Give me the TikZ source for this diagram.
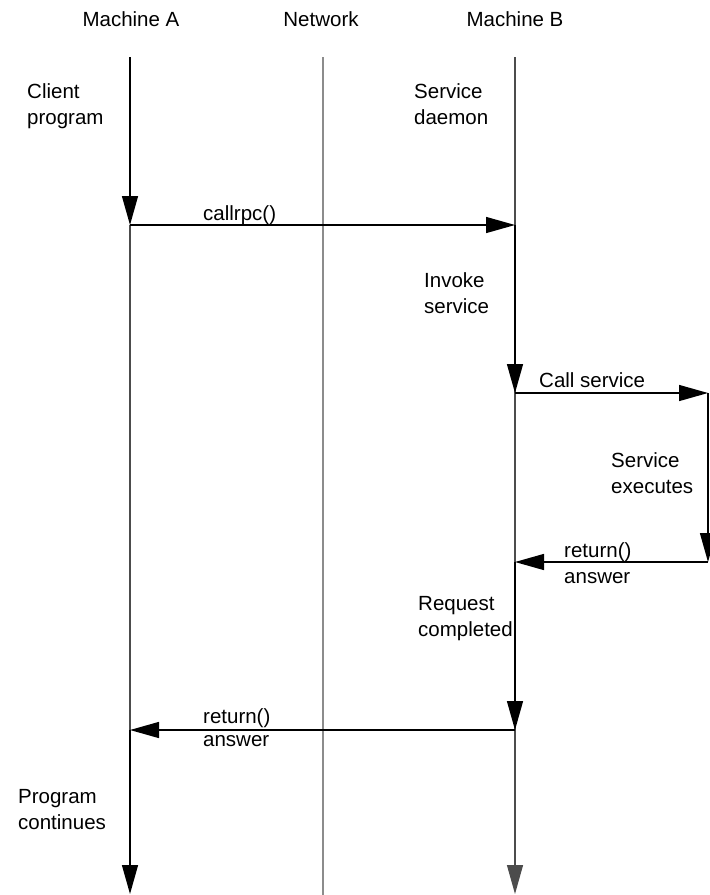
\documentclass[tikz,border=0pt]{standalone}
\usepackage{fontspec}
\setmainfont{Liberation Sans}
\usetikzlibrary{arrows.meta}
\begin{document}
\begin{tikzpicture}[x=1pt,y=-1pt,
  lbl/.style={font=\fontsize{20.5}{26}\selectfont, inner sep=0pt, align=left, anchor=base west},
  ttl/.style={font=\fontsize{20.5}{26}\selectfont, inner sep=0pt, anchor=base},
  tip/.style={-{Triangle[length=29pt,width=16pt]}},
  blk/.style={draw=black, line width=1.4pt, tip},
  gry/.style={draw=black!70, line width=1.2pt},
  net/.style={draw=black!45, line width=1.2pt}]
\useasboundingbox (0,0) rectangle (710,895);
% coordinates
\coordinate (A0) at (130,57); \coordinate (A1) at (130,225);
\coordinate (A2) at (130,730); \coordinate (Aend) at (130,894);
\coordinate (N0) at (323,57);  \coordinate (Nend) at (323,895);
\coordinate (B0) at (515,57);  \coordinate (B1) at (515,225);
\coordinate (B2) at (515,393); \coordinate (B3) at (515,562);
\coordinate (B4) at (515,730); \coordinate (Bend) at (515,894);
\coordinate (C2) at (708,393); \coordinate (C3) at (708,562);
% titles
\node[ttl] (tA) at (131,26) {Machine A};
\node[ttl] (tN) at (321,26) {Network};
\node[ttl] (tB) at (515,26) {Machine B};
% lifelines
\draw[net] (N0) -- (Nend);
\draw[gry] (A1) -- (A2);
\draw[gry, -{Triangle[length=29pt,width=16pt]}, fill=black!70] (B0) -- (Bend);
% activations
\draw[blk] (A0) -- (A1);
\draw[blk] (A2) -- (Aend);
\draw[blk] (B1) -- (B2);
\draw[blk] (B3) -- (B4);
\draw[blk] (C2) -- (C3);
% messages
\draw[blk] (A1) -- (B1);
\draw[blk] (B2) -- (C2);
\draw[blk] (C3) -- (B3);
\draw[blk] (B4) -- (A2);
% labels (multi-line nodes: base = last line's baseline)
\node[lbl] (client) at (27,124) {Client\\program};
\node[lbl] (daemon) at (414,124) {Service\\daemon};
\node[lbl] (callrpc) at (203,220) {callrpc()};
\node[lbl] (invoke) at (424,313) {Invoke\\service};
\node[lbl] (callsvc) at (539,387) {Call service};
\node[lbl] (exec) at (611,493) {Service\\executes};
\node[lbl] (ret1) at (564,557) {return()};
\node[lbl] (ans1) at (564,583) {answer};
\node[lbl] (req) at (418,636) {Request\\completed};
\node[lbl] (ret2) at (203,723) {return()};
\node[lbl] (ans2) at (203,746) {answer};
\node[lbl] (cont) at (18,829) {Program\\continues};
\end{tikzpicture}
\end{document}
